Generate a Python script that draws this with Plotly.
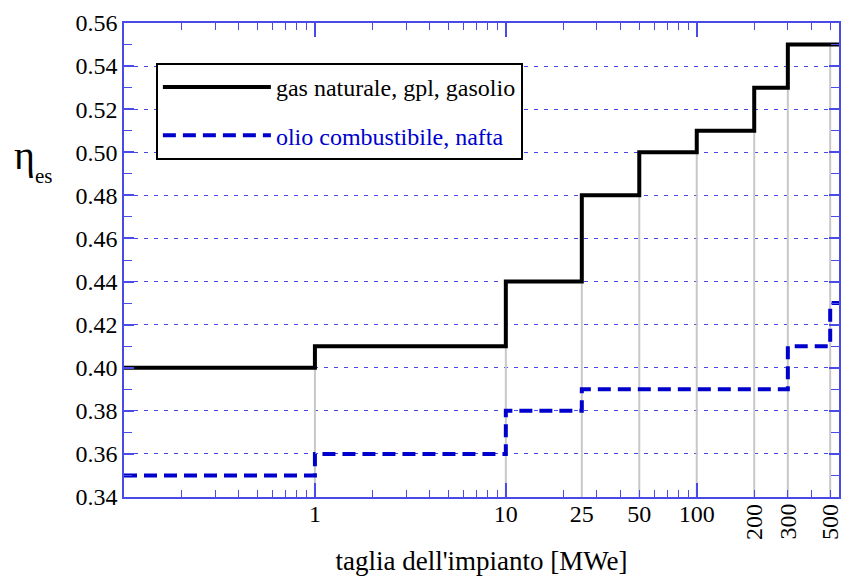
import plotly.graph_objects as go
import numpy as np

# ---- data ----
gas_x = [0.1, 1, 10, 25, 50, 100, 200, 300, 560]
gas_y = [0.40, 0.41, 0.44, 0.48, 0.50, 0.51, 0.53, 0.55, 0.55]
oil_x = [0.1, 1, 10, 25, 300, 500, 560]
oil_y = [0.35, 0.36, 0.38, 0.39, 0.41, 0.43, 0.43]
drop_x = [1, 10, 25, 50, 100, 200, 300, 500]
label_flat = [1, 10, 25, 50, 100]
label_rot = [200, 300, 500]
y_ticks = [0.34, 0.36, 0.38, 0.40, 0.42, 0.44, 0.46, 0.48, 0.50, 0.52, 0.54, 0.56]
y_minor = [0.35, 0.37, 0.39, 0.41, 0.43, 0.45, 0.47, 0.49, 0.51, 0.53, 0.55]
x_minor = [m * d for d in (0.1, 1, 10, 100) for m in range(2, 10) if m * d < 560]

Y0, Y1 = 0.34, 0.56
XR = [np.log10(0.1), np.log10(556)]

SERIF = "Liberation Serif"
BLUE = "#0000cc"
AXBLUE = "#4a4ae8"


def gas_at_left(b):
    val = gas_y[0]
    for xx, yy in zip(gas_x, gas_y):
        if xx < b:
            val = yy
    return val


gx, gy = [], []
for b in drop_x:
    gx += [b, b, None]
    gy += [Y0, gas_at_left(b), None]

fig = go.Figure()
fig.add_trace(go.Scatter(x=gx, y=gy, mode="lines", line=dict(color="#c8c8c8", width=2),
                         showlegend=False, hoverinfo="skip"))
fig.add_trace(go.Scatter(x=gas_x, y=gas_y, mode="lines", line_shape="hv", legendgroup="g1",
                         line=dict(color="black", width=4), name="gas naturale, gpl, gasolio"))
fig.add_trace(go.Scatter(x=oil_x, y=oil_y, mode="lines", line_shape="hv", legendgroup="g2",
                         line=dict(color=BLUE, width=4, dash="13px,7px"),
                         name="<span style='color:#0000cc'>olio combustibile, nafta</span>"))
# label axis trace (invisible)
fig.add_trace(go.Scatter(x=[1], y=[0.45], xaxis="x2", mode="markers", opacity=0,
                         showlegend=False, hoverinfo="skip"))

fig.update_layout(
    width=842, height=576,
    margin=dict(l=124, r=1, t=23, b=79),
    plot_bgcolor="white", paper_bgcolor="white",
    font=dict(family=SERIF, size=24, color="black"),
    showlegend=True,
    legend=dict(x=0.0446, y=0.9156, xanchor="left", yanchor="top",
                bgcolor="white", bordercolor="black", borderwidth=2,
                font=dict(family=SERIF, size=24, color="black"),
                itemwidth=108, traceorder="grouped", tracegroupgap=14),
    xaxis=dict(type="log", range=XR, tickvals=[1, 10, 100], ticktext=["", "", ""],
               ticks="inside", ticklen=14, tickcolor=AXBLUE, tickwidth=1.5,
               minor=dict(tickvals=x_minor, ticks="inside", ticklen=7,
                          tickcolor=AXBLUE, tickwidth=1.2, showgrid=False),
               showline=True, linecolor=AXBLUE, linewidth=1.5, mirror="ticks",
               showgrid=False, zeroline=False,
               title=dict(text="taglia dell'impianto [MWe]", font=dict(size=27), standoff=49)),
    xaxis2=dict(type="log", range=XR, overlaying="x", side="bottom",
                tickvals=label_flat, ticktext=[str(v) for v in label_flat],
                ticks="", showline=False, showgrid=False, zeroline=False,
                tickfont=dict(family=SERIF, size=24, color="black")),
    yaxis=dict(range=[Y0, Y1], tickvals=y_ticks, ticktext=["%.2f" % v for v in y_ticks],
               ticks="inside", ticklen=10, tickcolor=AXBLUE, tickwidth=1.5,
               minor=dict(tickvals=y_minor, ticks="inside", ticklen=8,
                          tickcolor=AXBLUE, tickwidth=1.2, showgrid=False),
               showline=True, linecolor=AXBLUE, linewidth=1.5, mirror="ticks",
               showgrid=True, gridcolor="rgba(40,40,230,0.85)", gridwidth=1, griddash="4px,6px",
               zeroline=False, tickfont=dict(family=SERIF, size=24)),
)

for v in label_rot:
    fig.add_annotation(x=np.log10(v), y=-0.01, xref="x", yref="paper", text=str(v),
                       textangle=-90, showarrow=False, xanchor="center", yanchor="top",
                       font=dict(family=SERIF, size=24, color="black"))

fig.add_annotation(x=-0.157, y=0.772, xref="paper", yref="paper",
                   text="η", showarrow=False,
                   font=dict(family=SERIF, size=40, color="black"))
fig.add_annotation(x=-0.127, y=0.706, xref="paper", yref="paper",
                   text="es", showarrow=False,
                   font=dict(family=SERIF, size=21, color="black"))

fig.write_html("out.html")
